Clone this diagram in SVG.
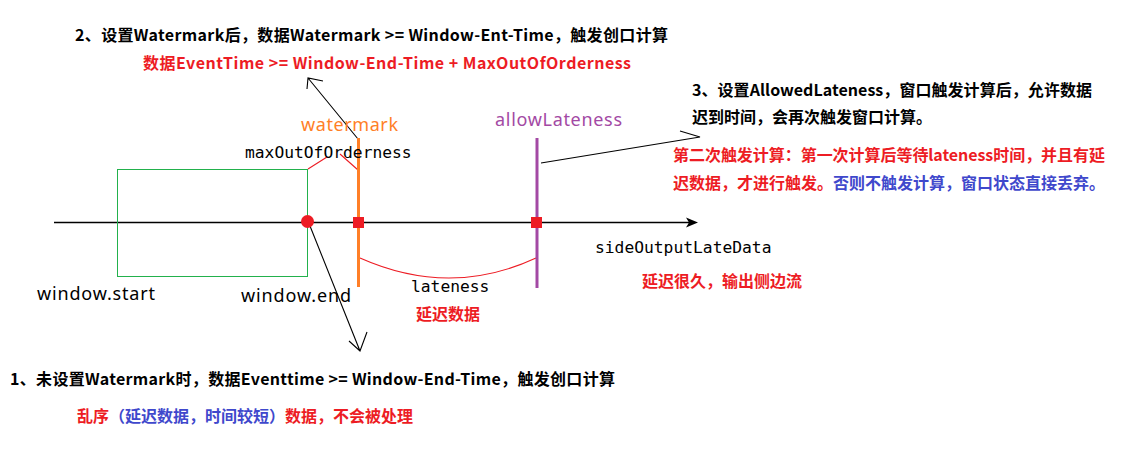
<svg xmlns="http://www.w3.org/2000/svg" width="1140" height="453" viewBox="0 0 1140 453">
<style>
.cjk{font-family:'Noto Sans CJK SC','Noto Sans',sans-serif;font-weight:700;font-size:16px}
.mono{font-family:'DejaVu Sans Mono',monospace;font-size:16.3px;fill:#000}
.sans{font-family:'Noto Sans','Liberation Sans',sans-serif;font-size:18px}
.blk{fill:#000}.red{fill:#ED1C24}.blue{fill:#3F48CC}
.ln{stroke:#000;stroke-width:1.1;fill:none}
.rl{stroke:#ED1C24;stroke-width:1.1;fill:none}
</style>
<rect width="1140" height="453" fill="#fff"/>
<g id="connectors">
<line x1="54" y1="222.5" x2="690" y2="222.5" stroke="#000" stroke-width="1.3"/>
<path d="M698,222.5 L686,217.5 L689,222.5 L686,227.5 Z" fill="#000"/>
<path class="ln" d="M358,139 L308,78 M307,89 L308,78 L323,81"/>
<path class="ln" d="M310,226 L360,351 M349,341 L360,351 L367,332"/>
<path class="ln" d="M541,163 L700,137 L680,131"/>
<path class="rl" d="M308,169 L327,157 M340,154 L358,170"/>
<path class="rl" d="M360,258 Q450,298 536,258"/>
</g>
<g id="window">
<rect x="117.5" y="169.5" width="190" height="107" fill="none" stroke="#22B14C" stroke-width="1"/>
<text class="sans blk" x="37" y="300" font-size="19" textLength="118">window.start</text>
<text class="sans blk" x="241" y="302" font-size="19" textLength="110">window.end</text>
<circle cx="307.5" cy="221.5" r="6.5" fill="#ED1C24"/>
</g>
<g id="watermark">
<line x1="358.5" y1="138" x2="358.5" y2="287" stroke="#FF7F27" stroke-width="3"/>
<rect x="353" y="217" width="11" height="11" fill="#ED1C24"/>
<text class="sans" x="301" y="131" fill="#FF7F27" textLength="97">watermark</text>
<text class="mono" x="245" y="158">maxOutOfOrderness</text>
</g>
<g id="allowLateness">
<line x1="537" y1="138" x2="537" y2="288" stroke="#A349A4" stroke-width="3"/>
<rect x="531" y="217" width="11" height="11" fill="#ED1C24"/>
<text class="sans" x="495" y="126" fill="#A349A4" textLength="127">allowLateness</text>
</g>
<g id="lateness">
<text class="mono" x="411" y="292">lateness</text>
<text class="cjk red" x="416" y="320">延迟数据</text>
</g>
<g id="sideOutput">
<text class="mono" x="595" y="253">sideOutputLateData</text>
<text class="cjk red" x="642" y="287">延迟很久，输出侧边流</text>
</g>
<g id="note2">
<text class="cjk blk" x="75" y="41" font-size="17" textLength="593">2、设置Watermark后，数据Watermark &gt;= Window-Ent-Time，触发创口计算</text>
<text class="cjk red" x="143" y="69" font-size="16.5" textLength="488">数据EventTime &gt;= Window-End-Time + MaxOutOfOrderness</text>
</g>
<g id="note3">
<text class="cjk blk" x="692" y="96" textLength="400">3、设置AllowedLateness，窗口触发计算后，允许数据</text>
<text class="cjk blk" x="692" y="123">迟到时间，会再次触发窗口计算。</text>
<text class="cjk red" x="673" y="161" textLength="432">第二次触发计算：第一次计算后等待lateness时间，并且有延</text>
<text class="cjk" x="673" y="189"><tspan class="red">迟数据，才进行触发。</tspan><tspan class="blue">否则不触发计算，窗口状态直接丢弃。</tspan></text>
</g>
<g id="note1">
<text class="cjk blk" x="10" y="385" font-size="17" textLength="605">1、未设置Watermark时，数据Eventtime &gt;= Window-End-Time，触发创口计算</text>
<text class="cjk" x="77" y="422"><tspan class="red">乱序</tspan><tspan class="blue">（延迟数据，时间较短）</tspan><tspan class="red">数据，不会被处理</tspan></text>
</g>
</svg>
